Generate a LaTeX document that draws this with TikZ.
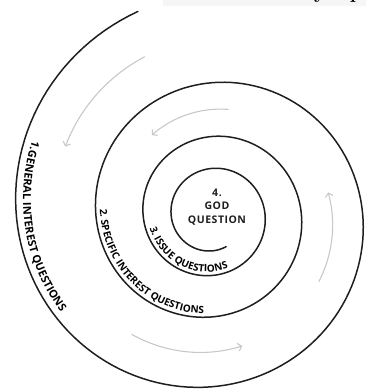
\documentclass[tikz,border=0pt]{standalone}
\usepackage{fontspec}
\newfontfamily\labelfamily{Open Sans}
\usetikzlibrary{arrows.meta,decorations.text}
\definecolor{cspiral}{HTML}{1E1E1E}
\definecolor{cflow}{HTML}{C8C8C8}
\definecolor{cstrip}{HTML}{F6F6F6}
\newcommand{\ringfontA}{\labelfamily\bfseries\fontsize{11}{12}\selectfont
    \addfontfeatures{LetterSpace=7}}
\newcommand{\ringfontB}{\labelfamily\bfseries\fontsize{10}{12}\selectfont
    \addfontfeatures{LetterSpace=2}}
\newcommand{\ringfontC}{\labelfamily\bfseries\fontsize{10}{12}\selectfont
    \addfontfeatures{LetterSpace=2}}

\begin{document}
\begin{tikzpicture}[
    x=1pt, y=1pt,
    declare function={spr(\t)=254*exp(-0.001442*\t);},
    spiralline/.style={line width=1.5pt, cspiral, line cap=round},
    flowarrow/.style={-{Straight Barb[length=3.5pt,width=8pt]},
        line width=1.1pt, cflow},
    centerlabel/.style={font=\labelfamily\bfseries\fontsize{10.5}{13.5}\selectfont
        \addfontfeatures{LetterSpace=5},
        align=center, text=cspiral, inner sep=0pt},
]
\useasboundingbox (0,0) rectangle (366,392);

% ============================================================
% CROPPED PAGE STRIP (top right)
% ============================================================
\begin{scope}
    \clip (0,0) rectangle (366,392);
    \fill[cstrip] (163,386) rectangle (366,392);
    \node[font=\bfseries\fontsize{20}{20}\selectfont, anchor=base, inner sep=0pt]
        (stripy) at (320,393.5) {y};
    \node[font=\bfseries\fontsize{20}{20}\selectfont, anchor=base, inner sep=0pt]
        (stripp) at (356,393.5) {p};
\end{scope}

% ============================================================
% SPIRAL
% ============================================================
\draw[spiralline] plot[domain=110:1374, samples=500, variable=\t]
    ({212+spr(\t)*cos(\t)},{177+spr(\t)*sin(\t)});

% ============================================================
% FLOW ARROWS
% ============================================================
\foreach \a/\b in {113/155, 236/283, 328/371, 441/487} {
    \draw[flowarrow] plot[domain=\a:\b, samples=40, variable=\t]
        ({212+0.7975*spr(\t)*cos(\t)},{177+0.7975*spr(\t)*sin(\t)});
}

% ============================================================
% RING LABELS
% ============================================================
\path[decorate, decoration={text along path, text align=left,
    text={|\ringfontA|1.GENERAL INTEREST QUESTIONS}}]
    plot[domain=157.5:250, samples=90, variable=\t]
    ({212+0.962*spr(\t)*cos(\t)},{177+0.962*spr(\t)*sin(\t)});

\path[decorate, decoration={text along path, text align=left,
    text={|\ringfontB|2. SPECIFIC INTEREST QUESTIONS}}]
    plot[domain=537:690, samples=90, variable=\t]
    ({212+0.962*spr(\t)*cos(\t)},{177+0.962*spr(\t)*sin(\t)});

\path[decorate, decoration={text along path, text align=left,
    text={|\ringfontC|3. ISSUE QUESTIONS}}]
    plot[domain=912:1070, samples=90, variable=\t]
    ({212+0.94*spr(\t)*cos(\t)},{177+0.94*spr(\t)*sin(\t)});

% ============================================================
% CENTER
% ============================================================
\node[centerlabel] (godq) at (217,185) {4.\\GOD\\QUESTION};

\end{tikzpicture}
\end{document}
